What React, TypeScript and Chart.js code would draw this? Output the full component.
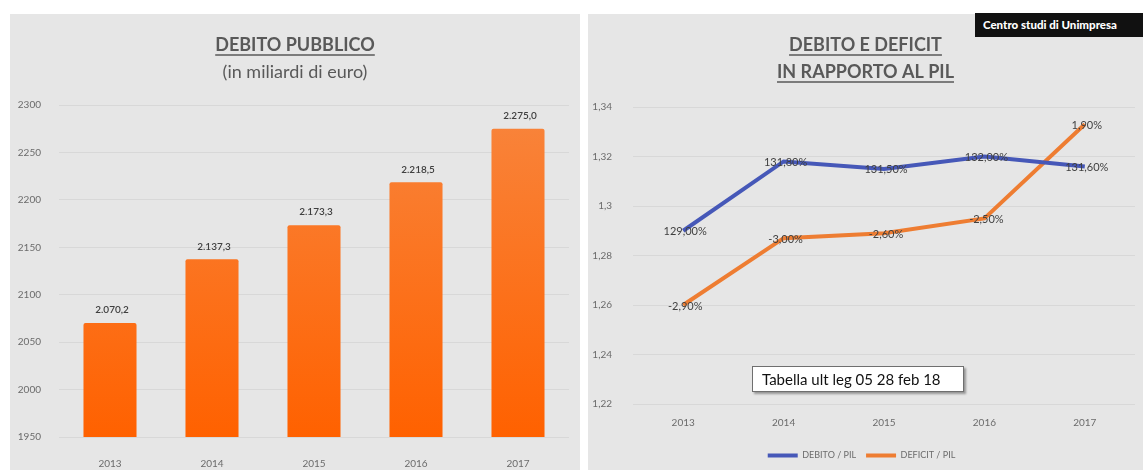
import React, { useEffect, useRef } from "react";
import { Chart, registerables } from "chart.js";
Chart.register(...registerables);

const YEARS = ["2013", "2014", "2015", "2016", "2017"];
const DEBT_BILLIONS = [2070.2, 2137.3, 2173.3, 2218.5, 2275.0];
const DEBT_BILLIONS_LABELS = ["2.070,2", "2.137,3", "2.173,3", "2.218,5", "2.275,0"];
const LEFT_Y_TICKS = [1950, 2000, 2050, 2100, 2150, 2200, 2250, 2300];
const LEFT_TITLE = ["DEBITO PUBBLICO", "(in miliardi di euro)"];

const DEBT_GDP = [1.29, 1.318, 1.315, 1.32, 1.316];
const DEBT_GDP_LABELS = ["129,00%", "131,80%", "131,50%", "132,00%", "131,60%"];
const DEFICIT_GDP = [1.26, 1.287, 1.289, 1.295, 1.333];
const DEFICIT_GDP_LABELS = ["-2,90%", "-3,00%", "-2,60%", "-2,50%", "1,90%"];
const RIGHT_Y_TICKS = [1.22, 1.24, 1.26, 1.28, 1.3, 1.32, 1.34];
const RIGHT_TITLE = ["DEBITO E DEFICIT", "IN RAPPORTO AL PIL"];
const SERIES_NAMES = ["DEBITO / PIL", "DEFICIT / PIL"];

const SOURCE_BADGE = "Centro studi di Unimpresa";
const NOTE_BOX = "Tabella ult leg 05 28 feb 18";

const FONT = "Lato, 'Open Sans', sans-serif";
const TEXT_GRAY = "#6b6b6b";
const TITLE_GRAY = "#595959";
const GRID = "#d8d8d8";
const BLUE = "#4658b8";
const ORANGE = "#ee7d32";

function titlePlugin(id: string, lines: string[], bold: boolean[], underline: boolean[]) {
  return {
    id,
    afterDraw(chart: any) {
      const ctx = chart.ctx as CanvasRenderingContext2D;
      const cx = chart.width / 2;
      ctx.save();
      ctx.fillStyle = TITLE_GRAY;
      ctx.strokeStyle = TITLE_GRAY;
      ctx.textAlign = "center";
      ctx.textBaseline = "middle";
      lines.forEach((t, i) => {
        const y = 31 + i * 27;
        ctx.font = `${bold[i] ? "bold " : ""}18px ${FONT}`;
        ctx.fillText(t, cx, y);
        if (underline[i]) {
          const w = ctx.measureText(t).width;
          ctx.lineWidth = 1.5;
          ctx.beginPath();
          ctx.moveTo(cx - w / 2, y + 10);
          ctx.lineTo(cx + w / 2, y + 10);
          ctx.stroke();
        }
      });
      ctx.restore();
    },
  };
}

function pointLabelPlugin(id: string, labels: string[][], dy: number, weight: string, size: number) {
  return {
    id,
    afterDatasetsDraw(chart: any) {
      const ctx = chart.ctx as CanvasRenderingContext2D;
      ctx.save();
      ctx.fillStyle = "#3f3f3f";
      ctx.textAlign = "center";
      ctx.textBaseline = "middle";
      ctx.font = `${weight} ${size}px ${FONT}`;
      labels.forEach((arr, di) => {
        const meta = chart.getDatasetMeta(di);
        meta.data.forEach((el: any, i: number) => {
          ctx.fillText(arr[i], el.x + 2, el.y + dy);
        });
      });
      ctx.restore();
    },
  };
}

export default function App() {
  const leftRef = useRef<HTMLCanvasElement | null>(null);
  const rightRef = useRef<HTMLCanvasElement | null>(null);

  useEffect(() => {
    const left = new Chart(leftRef.current as HTMLCanvasElement, {
      type: "bar",
      data: {
        labels: YEARS,
        datasets: [
          {
            data: DEBT_BILLIONS,
            backgroundColor: (c: any) => {
              const ca = c.chart.chartArea;
              if (!ca) return "#f7782a";
              const g = c.chart.ctx.createLinearGradient(0, ca.top, 0, ca.bottom);
              g.addColorStop(0, "#f8853d");
              g.addColorStop(1, "#ff6100");
              return g;
            },
            borderRadius: 2,
            barPercentage: 0.52,
            categoryPercentage: 1,
          },
        ],
      },
      options: {
        responsive: false,
        animation: false,
        layout: { padding: { top: 91, left: 0, right: 11, bottom: 0 } },
        plugins: { legend: { display: false }, tooltip: { enabled: false } },
        scales: {
          x: {
            grid: { display: false },
            border: { display: false },
            afterFit: (s: any) => { s.height = 33; },
            ticks: { color: TEXT_GRAY, font: { family: FONT, size: 10 }, padding: 13 },
          },
          y: {
            min: 1950,
            max: 2300,
            afterBuildTicks: (s: any) => { s.ticks = LEFT_Y_TICKS.map((v) => ({ value: v })); },
            afterFit: (s: any) => { s.width = 49; },
            grid: { color: GRID, drawTicks: false },
            border: { display: false },
            ticks: {
              color: TEXT_GRAY,
              font: { family: FONT, size: 10 },
              padding: 18,
              callback: (v: any) => String(v),
            },
          },
        },
      },
      plugins: [
        titlePlugin("ltitle", LEFT_TITLE, [true, false], [true, false]),
        pointLabelPlugin("lbl", [DEBT_BILLIONS_LABELS], -13, "600", 10),
      ],
    } as any);

    const right = new Chart(rightRef.current as HTMLCanvasElement, {
      type: "line",
      data: {
        labels: YEARS,
        datasets: [
          {
            label: SERIES_NAMES[0],
            data: DEBT_GDP,
            borderColor: BLUE,
            backgroundColor: BLUE,
            borderWidth: 4,
            pointRadius: 0,
            tension: 0,
          },
          {
            label: SERIES_NAMES[1],
            data: DEFICIT_GDP,
            borderColor: ORANGE,
            backgroundColor: ORANGE,
            borderWidth: 4,
            pointRadius: 0,
            tension: 0,
          },
        ],
      },
      options: {
        responsive: false,
        animation: false,
        layout: { padding: { top: 93, left: 0, right: 8, bottom: 0 } },
        plugins: {
          tooltip: { enabled: false },
          legend: {
            position: "bottom",
            labels: {
              color: TEXT_GRAY,
              font: { family: FONT, size: 9 },
              boxWidth: 30,
              boxHeight: 4,
              padding: 10,
              generateLabels: (chart: any) =>
                chart.data.datasets.map((d: any, i: number) => ({
                  text: d.label,
                  fillStyle: d.borderColor,
                  strokeStyle: d.borderColor,
                  lineWidth: 0,
                  fontColor: TEXT_GRAY,
                  datasetIndex: i,
                  hidden: false,
                })),
            },
          },
        },
        scales: {
          x: {
            offset: true,
            grid: { display: false },
            border: { display: false },
            afterFit: (s: any) => { s.height = 37; },
            ticks: { color: TEXT_GRAY, font: { family: FONT, size: 10 }, padding: 5 },
          },
          y: {
            min: 1.22,
            max: 1.34,
            afterBuildTicks: (s: any) => { s.ticks = RIGHT_Y_TICKS.map((v) => ({ value: v })); },
            afterFit: (s: any) => { s.width = 45; },
            grid: { color: GRID, drawTicks: false },
            border: { display: false },
            ticks: {
              color: TEXT_GRAY,
              font: { family: FONT, size: 10 },
              padding: 21,
              callback: (v: any) => String(Number(Number(v).toFixed(2))).replace(".", ","),
            },
          },
        },
      },
      plugins: [
        titlePlugin("rtitle", RIGHT_TITLE, [true, true], [true, true]),
        pointLabelPlugin("rlbl", [DEBT_GDP_LABELS, DEFICIT_GDP_LABELS], 1, "400", 11),
      ],
    } as any);

    return () => {
      left.destroy();
      right.destroy();
    };
  }, []);

  return (
    <div
      style={{
        position: "absolute",
        left: 0,
        top: 0,
        width: 1143,
        height: 470,
        background: "#ffffff",
        overflow: "hidden",
        fontFamily: FONT,
      }}
    >
      <div style={{ position: "absolute", left: 10, top: 14, width: 570, height: 456, background: "#e6e6e6" }}>
        <canvas ref={leftRef} width={570} height={456} style={{ display: "block" }} />
      </div>
      <div style={{ position: "absolute", left: 588, top: 14, width: 555, height: 456, background: "#e6e6e6" }}>
        <canvas ref={rightRef} width={555} height={456} style={{ display: "block" }} />
      </div>
      <div
        style={{
          position: "absolute",
          left: 975,
          top: 13,
          width: 168,
          height: 24,
          background: "#111111",
          color: "#ffffff",
          fontWeight: 900,
          fontSize: 11.5,
          lineHeight: "24px",
          paddingLeft: 8,
          whiteSpace: "nowrap",
          boxSizing: "border-box",
        }}
      >
        {SOURCE_BADGE}
      </div>
      <div
        style={{
          position: "absolute",
          left: 752,
          top: 366,
          width: 212,
          height: 26,
          background: "#ffffff",
          border: "1px solid #6f6f6f",
          boxShadow: "2px 2px 2px rgba(0,0,0,0.35)",
          color: "#111111",
          fontSize: 15,
          lineHeight: "24px",
          paddingLeft: 9,
          whiteSpace: "nowrap",
          boxSizing: "border-box",
        }}
      >
        {NOTE_BOX}
      </div>
    </div>
  );
}
